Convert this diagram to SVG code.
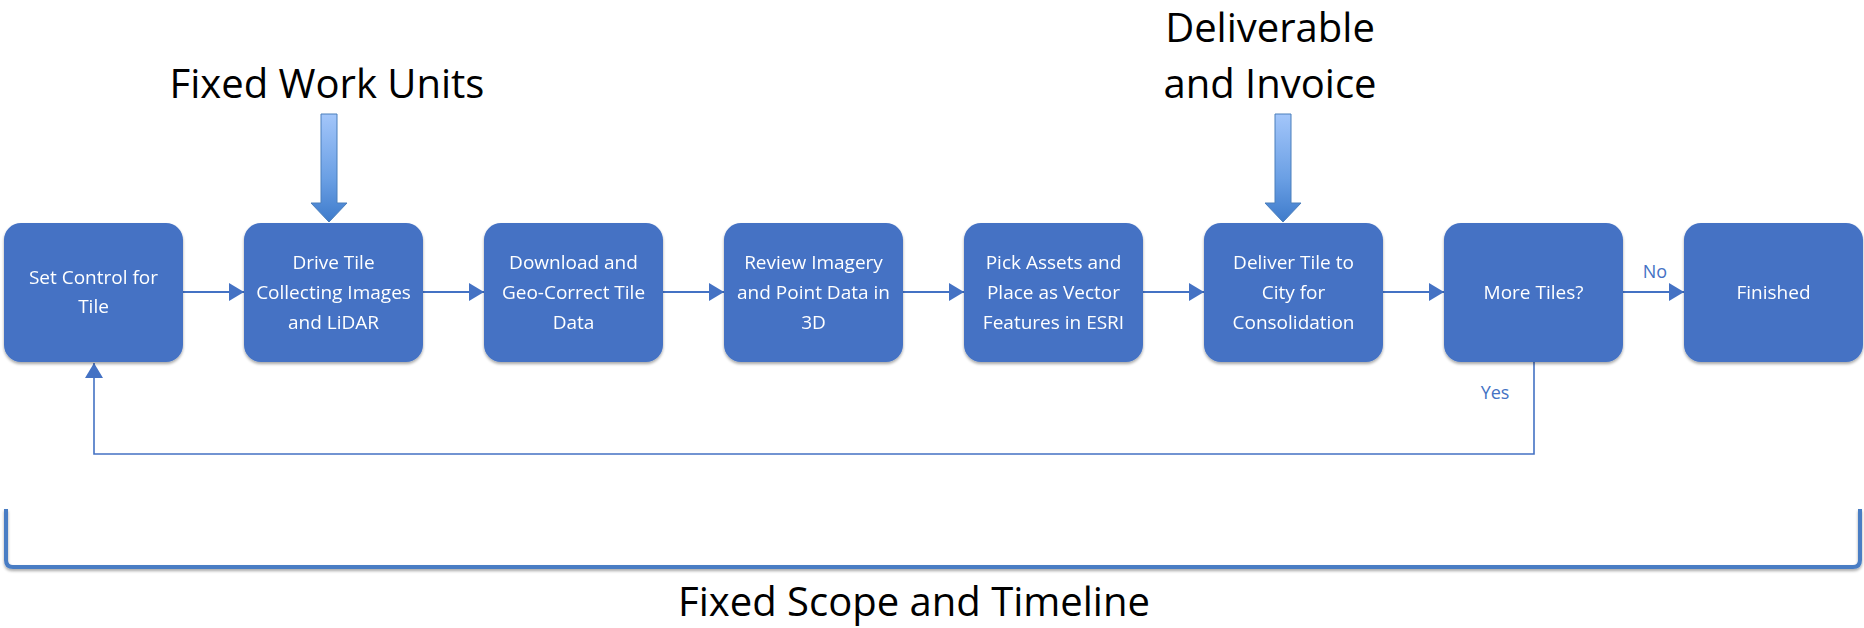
<svg xmlns="http://www.w3.org/2000/svg" width="1864" height="628" viewBox="0 0 1864 628">
<style>
.box{fill:#4472C4;}
.bt{font-family:"Open Sans","Liberation Sans",sans-serif;font-size:19px;fill:#FFFFFF;text-anchor:middle;}
.lbl{font-family:"Open Sans","Liberation Sans",sans-serif;font-size:40px;fill:#000000;text-anchor:middle;}
.cl{font-family:"Open Sans","Liberation Sans",sans-serif;font-size:18px;fill:#4472C4;text-anchor:middle;}
.conn{stroke:#4472C4;stroke-width:2;fill:none;}
.fb{stroke:#4472C4;stroke-width:1.6;fill:none;}
.blk{fill:url(#bg);stroke:#4A7EBB;stroke-width:1;}
</style>
<defs>
<marker id="ah" markerUnits="userSpaceOnUse" markerWidth="16" markerHeight="18" refX="15" refY="9" orient="auto">
<path d="M0,0 L15,9 L0,18 z" fill="#4472C4"/>
</marker>
<linearGradient id="bg" x1="0" y1="0" x2="0" y2="1">
<stop offset="0" stop-color="#A3C6FA"/>
<stop offset="0.6" stop-color="#6A9FE4"/>
<stop offset="1" stop-color="#3E7BCB"/>
</linearGradient>
<filter id="sh" x="-10%" y="-10%" width="120%" height="125%">
<feGaussianBlur in="SourceAlpha" stdDeviation="1.5"/>
<feOffset dx="0" dy="1.5" result="b"/>
<feComponentTransfer><feFuncA type="linear" slope="0.35"/></feComponentTransfer>
<feMerge><feMergeNode/><feMergeNode in="SourceGraphic"/></feMerge>
</filter>
</defs>

<g id="connectors">
<line class="conn" x1="183" y1="292" x2="244" y2="292" marker-end="url(#ah)"/>
<line class="conn" x1="423" y1="292" x2="484" y2="292" marker-end="url(#ah)"/>
<line class="conn" x1="663" y1="292" x2="724" y2="292" marker-end="url(#ah)"/>
<line class="conn" x1="903" y1="292" x2="964" y2="292" marker-end="url(#ah)"/>
<line class="conn" x1="1143" y1="292" x2="1204" y2="292" marker-end="url(#ah)"/>
<line class="conn" x1="1383" y1="292" x2="1444" y2="292" marker-end="url(#ah)"/>
<line class="conn" x1="1623" y1="292" x2="1684" y2="292" marker-end="url(#ah)"/>
<polyline class="fb" points="1534,362 1534,454 94,454 94,363" marker-end="url(#ah)"/>
<text class="cl" x="1655" y="278">No</text>
<text class="cl" x="1495" y="399">Yes</text>
</g>

<g id="n1" filter="url(#sh)"><rect class="box" x="4" y="223" width="179" height="139" rx="17"/>
<text class="bt" x="93.5" y="284">Set Control for</text><text class="bt" x="93.5" y="313">Tile</text></g>
<g id="n2" filter="url(#sh)"><rect class="box" x="244" y="223" width="179" height="139" rx="17"/>
<text class="bt" x="333.5" y="269">Drive Tile</text><text class="bt" x="333.5" y="299">Collecting Images</text><text class="bt" x="333.5" y="329">and LiDAR</text></g>
<g id="n3" filter="url(#sh)"><rect class="box" x="484" y="223" width="179" height="139" rx="17"/>
<text class="bt" x="573.5" y="269">Download and</text><text class="bt" x="573.5" y="299">Geo-Correct Tile</text><text class="bt" x="573.5" y="329">Data</text></g>
<g id="n4" filter="url(#sh)"><rect class="box" x="724" y="223" width="179" height="139" rx="17"/>
<text class="bt" x="813.5" y="269">Review Imagery</text><text class="bt" x="813.5" y="299">and Point Data in</text><text class="bt" x="813.5" y="329">3D</text></g>
<g id="n5" filter="url(#sh)"><rect class="box" x="964" y="223" width="179" height="139" rx="17"/>
<text class="bt" x="1053.5" y="269">Pick Assets and</text><text class="bt" x="1053.5" y="299">Place as Vector</text><text class="bt" x="1053.5" y="329">Features in ESRI</text></g>
<g id="n6" filter="url(#sh)"><rect class="box" x="1204" y="223" width="179" height="139" rx="17"/>
<text class="bt" x="1293.5" y="269">Deliver Tile to</text><text class="bt" x="1293.5" y="299">City for</text><text class="bt" x="1293.5" y="329">Consolidation</text></g>
<g id="n7" filter="url(#sh)"><rect class="box" x="1444" y="223" width="179" height="139" rx="17"/>
<text class="bt" x="1533.5" y="299">More Tiles?</text></g>
<g id="n8" filter="url(#sh)"><rect class="box" x="1684" y="223" width="179" height="139" rx="17"/>
<text class="bt" x="1773.5" y="299">Finished</text></g>

<g id="fixed-work-units">
<text class="lbl" x="327" y="98">Fixed Work Units</text>
<path class="blk" d="M321,114 H337 V203 H347 L329,222 L311,203 H321 Z"/>
</g>
<g id="deliverable">
<text class="lbl" x="1270" y="42">Deliverable</text>
<text class="lbl" x="1270" y="98">and Invoice</text>
<path class="blk" d="M1275,114 H1291 V203 H1301 L1283,222 L1265,203 H1275 Z"/>
</g>
<g id="scope">
<path d="M6,509 V560 Q6,567 13,567 H1853 Q1860,567 1860,560 V509" fill="none" stroke="#4A7DC4" stroke-width="4" filter="url(#sh)"/>
<text class="lbl" x="914" y="616">Fixed Scope and Timeline</text>
</g>
</svg>
